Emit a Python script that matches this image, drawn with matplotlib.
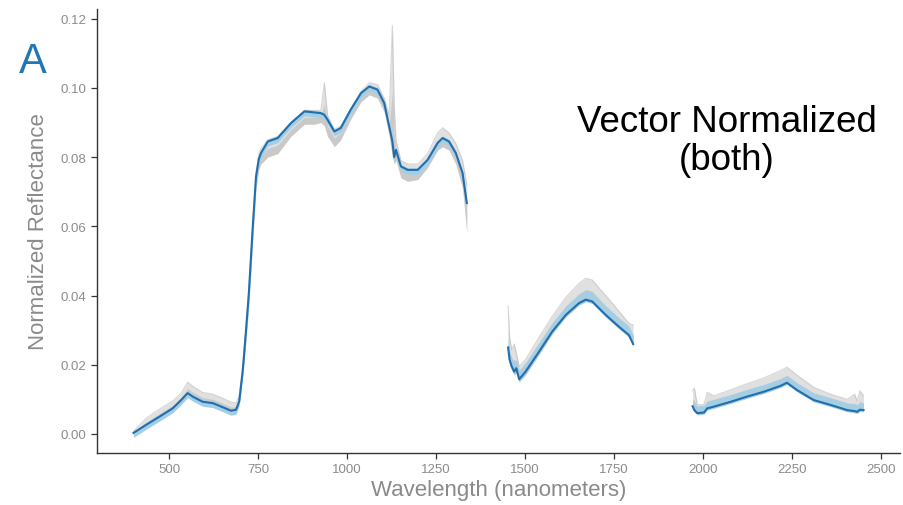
import matplotlib
matplotlib.use("Agg")
import matplotlib.pyplot as plt
import numpy as np

plt.rcParams['font.family'] = ['Liberation Sans', 'DejaVu Sans']

# ---------------- data ----------------
# Segment 1: VIS-NIR
wl_1 = [400, 435, 473, 510, 534, 552, 566, 594, 623, 651, 674, 688, 697, 707, 716, 724,
        735, 744, 752, 758, 777, 805, 842, 880, 908, 926, 936, 945, 964, 982, 1010, 1039,
        1062, 1085, 1104, 1118, 1127, 1132, 1137, 1151, 1170, 1198, 1226, 1254, 1268,
        1286, 1305, 1324, 1336]
mean_1 = [0.0003, 0.0026, 0.0050, 0.0074, 0.0098, 0.0118, 0.0108, 0.0093, 0.0089, 0.0077,
          0.0067, 0.0070, 0.0095, 0.0185, 0.0300, 0.0408, 0.0600, 0.0743, 0.0795, 0.0812,
          0.0845, 0.0855, 0.0898, 0.0932, 0.0929, 0.0927, 0.0922, 0.0908, 0.0874, 0.0884,
          0.0937, 0.0985, 0.1004, 0.0995, 0.0956, 0.0889, 0.0845, 0.0800, 0.0821, 0.0773,
          0.0763, 0.0763, 0.0792, 0.0841, 0.0855, 0.0845, 0.0812, 0.0754, 0.0667]
gray_hi_1 = [0.0008, 0.0045, 0.0072, 0.0095, 0.0118, 0.0150, 0.0138, 0.0120, 0.0115, 0.0103,
             0.0092, 0.0090, 0.0110, 0.0200, 0.0310, 0.0420, 0.0610, 0.0755, 0.0810, 0.0825,
             0.0850, 0.0860, 0.0900, 0.0935, 0.0935, 0.0935, 0.1015, 0.0920, 0.0880, 0.0890,
             0.0940, 0.0990, 0.1015, 0.1010, 0.0970, 0.0920, 0.1180, 0.0950, 0.0850, 0.0790,
             0.0780, 0.0780, 0.0810, 0.0870, 0.0885, 0.0870, 0.0840, 0.0790, 0.0720]
gray_lo_1 = [0.0000, 0.0022, 0.0046, 0.0070, 0.0094, 0.0112, 0.0104, 0.0090, 0.0085, 0.0074,
             0.0064, 0.0066, 0.0088, 0.0170, 0.0270, 0.0370, 0.0560, 0.0710, 0.0765, 0.0780,
             0.0800, 0.0810, 0.0860, 0.0895, 0.0895, 0.0900, 0.0890, 0.0860, 0.0830, 0.0850,
             0.0910, 0.0960, 0.0980, 0.0970, 0.0930, 0.0860, 0.0800, 0.0780, 0.0790, 0.0740,
             0.0730, 0.0735, 0.0770, 0.0820, 0.0830, 0.0820, 0.0780, 0.0710, 0.0580]

# Segment 2: SWIR-1
wl_2 = [1452, 1456, 1462, 1469, 1475, 1483, 1501, 1539, 1576, 1614, 1651, 1670, 1688,
        1726, 1763, 1791, 1803]
mean_2 = [0.0250, 0.0215, 0.0195, 0.0180, 0.0190, 0.0158, 0.0180, 0.0238, 0.0296, 0.0344,
          0.0378, 0.0388, 0.0383, 0.0344, 0.0310, 0.0286, 0.0260]
gray_hi_2 = [0.0370, 0.0280, 0.0245, 0.0260, 0.0235, 0.0195, 0.0215, 0.0280, 0.0340, 0.0395,
             0.0435, 0.0450, 0.0445, 0.0400, 0.0355, 0.0320, 0.0315]
gray_lo_2 = [0.0230, 0.0200, 0.0185, 0.0170, 0.0175, 0.0150, 0.0170, 0.0230, 0.0290, 0.0340,
             0.0375, 0.0385, 0.0380, 0.0340, 0.0305, 0.0282, 0.0255]

# Segment 3: SWIR-2
wl_3 = [1970, 1975, 1983, 2002, 2011, 2030, 2077, 2123, 2170, 2217, 2235, 2263, 2310, 2357,
        2404, 2425, 2432, 2440, 2450]
mean_3 = [0.0080, 0.0069, 0.0060, 0.0062, 0.0074, 0.0079, 0.0093, 0.0108, 0.0122, 0.0139,
          0.0148, 0.0127, 0.0098, 0.0084, 0.0069, 0.0066, 0.0064, 0.0070, 0.0069]
gray_hi_3 = [0.0125, 0.0133, 0.0085, 0.0085, 0.0120, 0.0110, 0.0128, 0.0145, 0.0162, 0.0183,
             0.0193, 0.0170, 0.0135, 0.0115, 0.0100, 0.0115, 0.0095, 0.0125, 0.0110]
gray_lo_3 = [0.0070, 0.0065, 0.0058, 0.0060, 0.0070, 0.0075, 0.0090, 0.0105, 0.0119, 0.0136,
             0.0145, 0.0124, 0.0095, 0.0081, 0.0066, 0.0063, 0.0061, 0.0065, 0.0066]

# light-blue band offsets (below / above mean) per segment
band_below = [0.0013, 0.0006, 0.0005]
band_above = [0.0006, 0.0026, 0.0021]

x_ticks = [500, 750, 1000, 1250, 1500, 1750, 2000, 2250, 2500]
y_ticks = [0.00, 0.02, 0.04, 0.06, 0.08, 0.10, 0.12]

# ---------------- plot ----------------
fig = plt.figure(figsize=(9.04, 5.06), dpi=100)
ax = fig.add_axes([0.1073, 0.1028, 0.8883, 0.8775])

segments = [(wl_1, mean_1, gray_lo_1, gray_hi_1),
            (wl_2, mean_2, gray_lo_2, gray_hi_2),
            (wl_3, mean_3, gray_lo_3, gray_hi_3)]

for i, (wl, m, glo, ghi) in enumerate(segments):
    wl = np.array(wl); m = np.array(m); glo = np.array(glo); ghi = np.array(ghi)
    ax.fill_between(wl, glo, ghi, color='#c8c8c8', alpha=0.55, lw=0)
    ax.fill_between(wl, glo, (glo + ghi) / 2, color='#a0a0a0', alpha=0.35, lw=0)
    ax.plot(wl, ghi, color='#b0b0b0', lw=0.8, alpha=0.5)
    ax.fill_between(wl, m - band_below[i], m + band_above[i], color='#a6cee3', lw=0)
    ax.plot(wl, m, color='#1f6fb0', lw=1.5)

ax.set_xlim(297.5, 2552.5)
ax.set_ylim(-0.0055, 0.1228)
ax.set_xticks(x_ticks)
ax.set_yticks(y_ticks)
ax.set_yticklabels([f"{v:.2f}" for v in y_ticks])

for s in ['top', 'right']:
    ax.spines[s].set_visible(False)
for s in ['left', 'bottom']:
    ax.spines[s].set_color('#333333')
    ax.spines[s].set_linewidth(1.0)

ax.tick_params(axis='both', colors='#333333', length=4, width=0.9,
               labelcolor='#8c8c8c', labelsize=9.5)
ax.tick_params(axis='y', pad=4)
ax.tick_params(axis='x', pad=3)

ax.set_xlabel('Wavelength (nanometers)', fontsize=16, color='#8a8a8a', labelpad=3)
ax.set_ylabel('Normalized Reflectance', fontsize=16, color='#8a8a8a', labelpad=8)

fig.text(0.8037, 0.720, 'Vector Normalized\n(both)', ha='center', va='center',
         fontsize=26.5, color='black', linespacing=1.12)
fig.text(0.0365, 0.877, 'A', ha='center', va='center', fontsize=30, color='#1f78b4')

fig.savefig('out.png', dpi=100)
